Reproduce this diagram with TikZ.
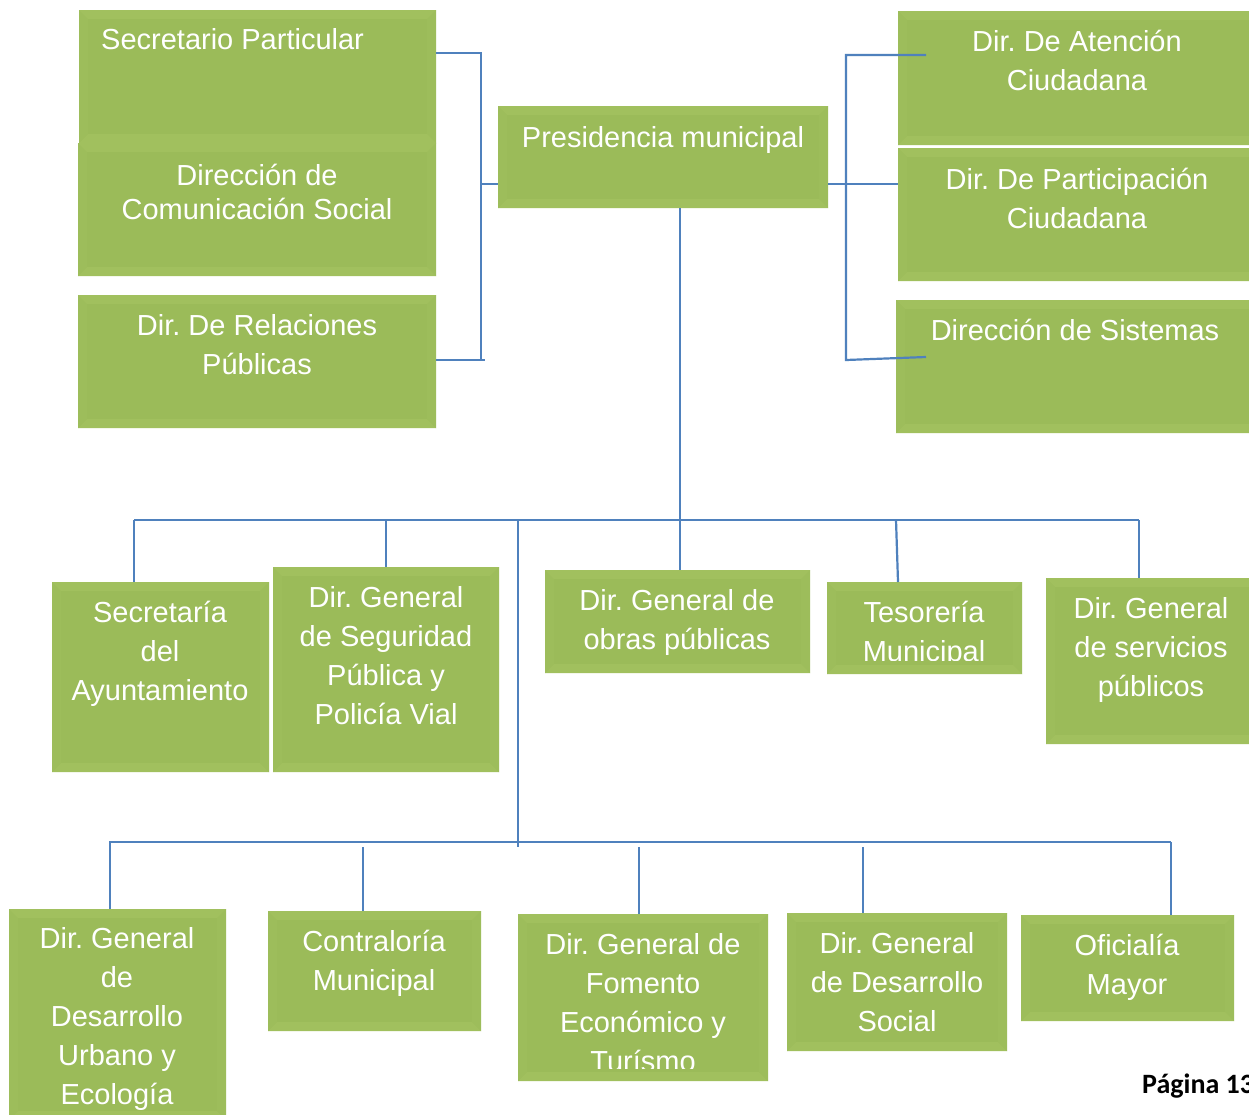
\documentclass[tikz,border=0pt]{standalone}
\usepackage{fontspec}
\setmainfont{Liberation Sans}
\newfontfamily\pagfont{Carlito}
\usetikzlibrary{calc}
\definecolor{ogreen}{RGB}{155,187,89}
\definecolor{obevel}{RGB}{161,192,94}
\definecolor{obevels}{RGB}{157,189,91}
\definecolor{oblue}{RGB}{79,129,189}
\frenchspacing
\begin{document}
\begin{tikzpicture}[x=1pt,y=-1pt,
  orgbox/.style={rectangle, fill=ogreen, draw=none, inner sep=0pt,
    path picture={
      \coordinate (nw) at (path picture bounding box.north west);
      \coordinate (ne) at (path picture bounding box.north east);
      \coordinate (sw) at (path picture bounding box.south west);
      \coordinate (se) at (path picture bounding box.south east);
      \fill[obevels] (nw) -- ($(nw)+(9,9)$) -- ($(sw)+(9,-9)$) -- (sw) -- cycle;
      \fill[obevels] (ne) -- ($(ne)+(-9,9)$) -- ($(se)+(-9,-9)$) -- (se) -- cycle;
      \fill[obevel] (nw) -- (ne) -- ($(ne)+(-9,9)$) -- ($(nw)+(9,9)$) -- cycle;
      \fill[obevel] (sw) -- (se) -- ($(se)+(-9,-9)$) -- ($(sw)+(9,-9)$) -- cycle;
    }},
  lbl/.style={text=white, align=center, inner sep=0pt, anchor=north,
    font=\fontsize{29}{39}\selectfont},
  conn/.style={draw=oblue, line width=2.2pt}]
\useasboundingbox[fill=white] (0,0) rectangle (1249,1114);

% ---- boxes ----
\node[orgbox, minimum width=357pt, minimum height=133pt] (sp)   at (257.5,76.5) {};
\node[orgbox, minimum width=358pt, minimum height=133pt] (dcs)  at (257,209.5) {};
\node[orgbox, minimum width=358pt, minimum height=133pt] (drp)  at (257,361.5) {};
\node[orgbox, minimum width=330pt, minimum height=102pt] (pm)   at (663,157) {};
\node[orgbox, minimum width=362pt, minimum height=134pt] (dac)  at (1079,78) {};
\node[orgbox, minimum width=362pt, minimum height=133pt] (dpc)  at (1079,214.5) {};
\node[orgbox, minimum width=364pt, minimum height=133pt] (ds)   at (1078,366.5) {};
\node[orgbox, minimum width=217pt, minimum height=190pt] (sa)   at (160.5,677) {};
\node[orgbox, minimum width=226pt, minimum height=205pt] (dgs)  at (386,669.5) {};
\node[orgbox, minimum width=265pt, minimum height=103pt] (dgo)  at (677.5,621.5) {};
\node[orgbox, minimum width=195pt, minimum height=92pt]  (tm)   at (924.5,628) {};
\node[orgbox, minimum width=214pt, minimum height=166pt] (dgsp) at (1153,661) {};
\node[orgbox, minimum width=217pt, minimum height=211pt] (dgdu) at (117.5,1014.5) {};
\node[orgbox, minimum width=213pt, minimum height=120pt] (cm)   at (374.5,971) {};
\node[orgbox, minimum width=250pt, minimum height=167pt] (dgfe) at (643,997.5) {};
\node[orgbox, minimum width=220pt, minimum height=138pt] (dgds) at (897,982) {};
\node[orgbox, minimum width=213pt, minimum height=106pt] (om)   at (1127.5,968) {};

% ---- texts ----
\node[lbl, anchor=north west] (sp-t) at (101,28) {Secretario Particular};
\node[lbl, font=\fontsize{29}{34}\selectfont] (dcs-t) at (257,164) {Dirección de\\Comunicación Social};
\node[lbl] (drp-t) at (257,314) {Dir. De Relaciones\\Públicas};
\node[lbl] (pm-t) at (663,126) {Presidencia municipal};
\node[lbl] (dac-t) at (1077,30) {Dir. De Atención\\Ciudadana};
\node[lbl] (dpc-t) at (1077,168) {Dir. De Participación\\Ciudadana};
\node[lbl] (ds-t) at (1075,319) {Dirección de Sistemas};
\node[lbl] (sa-t) at (160,601) {Secretaría\\del\\Ayuntamiento};
\node[lbl] (dgs-t) at (386,586) {Dir. General\\de Seguridad\\Pública y\\Policía Vial};
\node[lbl] (dgo-t) at (677,589) {Dir. General de\\obras públicas};
\begin{scope}
  \clip (827,582) rectangle (1022,660);
  \node[lbl] (tm-t) at (924,601) {Tesorería\\Municipal};
\end{scope}
\node[lbl] (dgsp-t) at (1151,597) {Dir. General\\de servicios\\públicos};
\node[lbl] (dgdu-t) at (117,927) {Dir. General\\de\\Desarrollo\\Urbano y\\Ecología};
\node[lbl] (cm-t) at (374,930) {Contraloría\\Municipal};
\begin{scope}
  \clip (518,914) rectangle (768,1068);
  \node[lbl] (dgfe-t) at (643,933) {Dir. General de\\Fomento\\Económico y\\Turísmo};
\end{scope}
\node[lbl] (dgds-t) at (897,932) {Dir. General\\de Desarrollo\\Social};
\node[lbl] (om-t) at (1127,934) {Oficialía\\Mayor};

\node[anchor=base west, inner sep=0pt, font=\pagfont\bfseries\fontsize{28}{34}\selectfont] (pag) at (1142,1093) {Página 13};

% ---- connectors ----
\coordinate (lb1) at (481,53);
\coordinate (lb2) at (481,360);
\coordinate (lj)  at (481,184);
\draw[conn] (sp.east |- lb1) -- (lb1) -- (lb2) -- ($(drp.east |- lb2)$);
\draw[conn] (lb2) -- ++(4,0);
\draw[conn] (lj) -- (pm.west |- lj);

\coordinate (rb1) at (846,55);
\coordinate (rb2) at (846,360);
\coordinate (rj)  at (846,184);
\coordinate (dac-in) at (926,55);
\coordinate (ds-in) at (926,357);
\draw[conn] (dac-in) -- (rb1) -- (rb2) -- (ds-in);
\draw[conn] (pm.east |- rj) -- (dpc.west |- rj);

\coordinate (mt) at (680,208);
\coordinate (bL) at (134,520);
\coordinate (bR) at (1139,520);
\coordinate (b2t) at (518,520);
\coordinate (b2b) at (518,847);
\coordinate (cL) at (109,842);
\coordinate (cR) at (1171,842);
\draw[conn] (mt) -- (dgo.north -| mt);
\draw[conn] (bL) -- (bR);
\draw[conn] (bL) -- (sa.north -| bL);
\draw[conn] (386,520) -- (dgs.north -| 386,0);
\draw[conn] (896,520) -- (898,582) coordinate (tm-in);
\draw[conn] (bR) -- (dgsp.north -| bR);
\draw[conn] (b2t) -- (b2b);
\draw[conn] (cL) -- (cR);
\draw[conn] (110,842) -- (dgdu.north -| 110,0);
\draw[conn] (363,847) -- (cm.north -| 363,0);
\draw[conn] (639,847) -- (dgfe.north -| 639,0);
\draw[conn] (863,847) -- (dgds.north -| 863,0);
\draw[conn] (cR) -- (om.north -| cR);
\end{tikzpicture}
\end{document}
